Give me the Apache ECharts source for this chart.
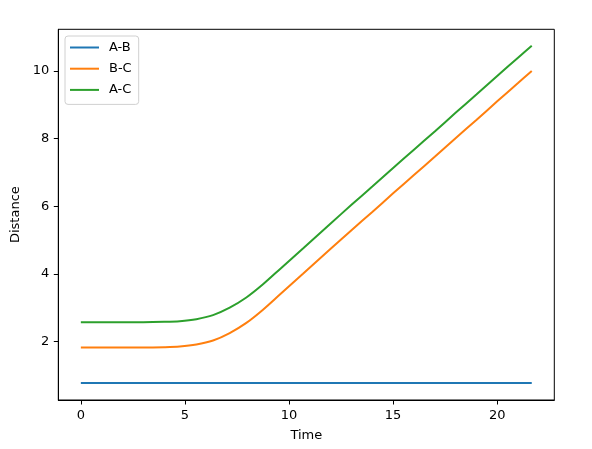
<!DOCTYPE html>
<html>
<head>
<meta charset="utf-8">
<script src="https://cdn.jsdelivr.net/npm/echarts@6/dist/echarts.min.js"></script>
<style>
html,body{margin:0;padding:0;background:#fff;}
#chart{width:592px;height:449px;}
</style>
</head>
<body>
<div id="chart"></div>
<script>
const seriesNames = ['A-B', 'B-C', 'A-C'];
const colors = ['#1f77b4', '#ff7f0e', '#2ca02c'];
const time = [0, 1, 2, 3, 4, 4.75, 5.55, 6.35, 7.15, 7.95, 8.75, 9.6, 10.67, 12, 13, 14, 15, 16, 17, 18, 19, 20, 21, 21.66];
const distAB = [0.77, 0.77, 0.77, 0.77, 0.77, 0.77, 0.77, 0.77, 0.77, 0.77, 0.77, 0.77, 0.77, 0.77, 0.77, 0.77, 0.77, 0.77, 0.77, 0.77, 0.77, 0.77, 0.77, 0.77];
const distBC = [1.82, 1.82, 1.82, 1.82, 1.83, 1.85, 1.91, 2.03, 2.25, 2.55, 2.94, 3.41, 4.00, 4.74, 5.29, 5.83, 6.38, 6.92, 7.46, 8.01, 8.55, 9.10, 9.64, 10.0];
const distAC = [2.57, 2.57, 2.57, 2.57, 2.58, 2.60, 2.66, 2.78, 3.00, 3.30, 3.69, 4.16, 4.75, 5.49, 6.04, 6.58, 7.13, 7.67, 8.21, 8.76, 9.30, 9.85, 10.39, 10.745];
const xTicks = [0, 5, 10, 15, 20];
const yTicks = [2, 4, 6, 8, 10];
const xRange = [-1.083, 22.743];
const yRange = [0.27, 11.23];

const allData = [distAB, distBC, distAC];
const font = 'DejaVu Sans';
const chart = echarts.init(document.getElementById('chart'), null, {renderer: 'canvas'});
chart.setOption({
  animation: false,
  backgroundColor: '#fff',
  grid: {left: 58.3, right: 37.7, top: 29.3, bottom: 49, show: true, borderColor: '#000', borderWidth: 1, backgroundColor: 'transparent'},
  legend: {
    left: 65, top: 36, orient: 'vertical',
    data: seriesNames.map(n => ({name: n, icon: 'rect'})),
    itemWidth: 29, itemHeight: 2, itemGap: 6.2,
    padding: [4, 7, 7, 5],
    borderColor: '#d0d0d0', borderWidth: 1, borderRadius: 3,
    backgroundColor: 'rgba(255,255,255,0.8)',
    textStyle: {fontFamily: font, fontSize: 13, color: '#000', lineHeight: 15, padding: [0, 0, 0, 5]}
  },
  xAxis: {
    type: 'value', min: xRange[0], max: xRange[1],
    name: 'Time', nameLocation: 'middle', nameGap: 29,
    nameTextStyle: {fontFamily: font, fontSize: 13, color: '#000'},
    axisLine: {show: true, onZero: false, lineStyle: {color: '#000', width: 1}},
    axisTick: {show: true, inside: false, length: 4.5, customValues: xTicks, lineStyle: {color: '#000'}},
    axisLabel: {customValues: xTicks, margin: 9, fontFamily: font, fontSize: 13, color: '#000'},
    splitLine: {show: false}
  },
  yAxis: {
    type: 'value', min: yRange[0], max: yRange[1],
    name: 'Distance', nameLocation: 'middle', nameGap: 32, nameRotate: 90,
    nameTextStyle: {fontFamily: font, fontSize: 13, color: '#000'},
    axisLine: {show: true, onZero: false, lineStyle: {color: '#000', width: 1}},
    axisTick: {show: true, inside: false, length: 4.5, customValues: yTicks, lineStyle: {color: '#000'}},
    axisLabel: {customValues: yTicks, margin: 9, fontFamily: font, fontSize: 13, color: '#000'},
    splitLine: {show: false}
  },
  series: seriesNames.map((n, i) => ({
    name: n, type: 'line', showSymbol: false, symbol: 'none', smooth: 0.3,
    color: colors[i],
    lineStyle: {width: 2, color: colors[i]},
    data: time.map((t, j) => [t, allData[i][j]])
  }))
});
</script>
</body>
</html>
